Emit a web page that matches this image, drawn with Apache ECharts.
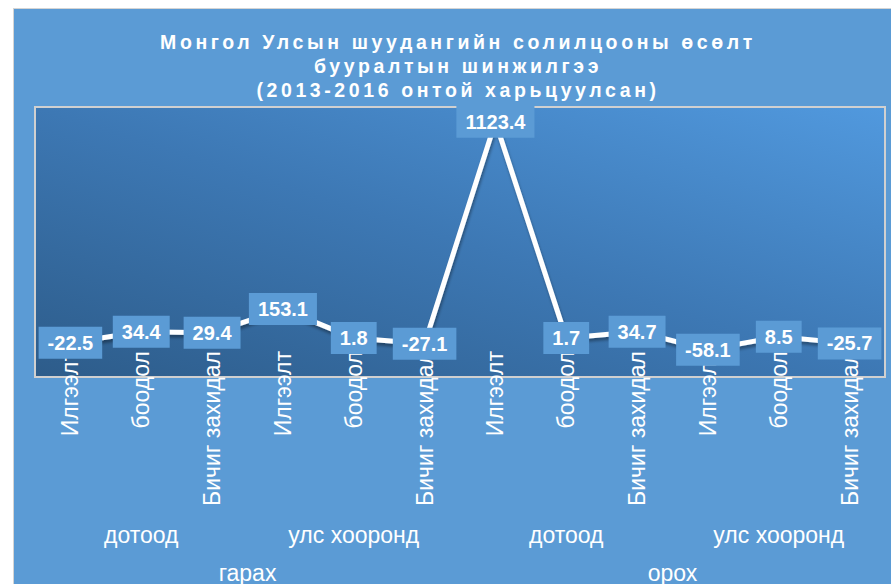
<!DOCTYPE html>
<html>
<head>
<meta charset="utf-8">
<script src="https://cdn.jsdelivr.net/npm/echarts@6/dist/echarts.min.js"></script>
<style>
    html, body {margin: 0; padding: 0; background: #fff;}
    #panel {
        position: absolute; left: 13px; top: 8px; width: 900px; height: 600px;
        background: #5b9bd5; border-left: 1px solid #d4d4d4; border-top: 1px solid #d4d4d4;
    }
    #chart {position: absolute; left: 0; top: 0; width: 891px; height: 584px;}
    /* title is letter spaced in the original */
    #chart text[style*="19.5px"] {letter-spacing: 3.6px;}
</style>
</head>
<body>
<div id="panel"></div>
<div id="chart"></div>
<script>
    const titleText = 'Монгол Улсын шуудангийн солилцооны өсөлт\nбууралтын шинжилгээ\n(2013-2016 онтой харьцуулсан)';

    const categories = ['Илгээлт', 'боодол', 'Бичиг захидал', 'Илгээлт', 'боодол', 'Бичиг захидал',
        'Илгээлт', 'боодол', 'Бичиг захидал', 'Илгээлт', 'боодол', 'Бичиг захидал'];
    const subGroups = ['дотоод', 'улс хооронд', 'дотоод', 'улс хооронд'];
    const topGroups = ['гарах', 'орох'];
    const values = [-22.5, 34.4, 29.4, 153.1, 1.8, -27.1, 1123.4, 1.7, 34.7, -58.1, 8.5, -25.7];

    const chart = echarts.init(document.getElementById('chart'), null, {renderer: 'svg'});

    //group axes share the grid, only labels shown
    const groupAxis = (data, offset) => ({
        type: 'category',
        data: data,
        position: 'bottom',
        offset: offset,
        axisLine: {show: false},
        axisTick: {show: false},
        splitLine: {show: false},
        axisLabel: {
            interval: 0,
            margin: 0,
            color: '#fff',
            fontSize: 23,
            fontFamily: 'Liberation Sans'
        }
    });

    chart.setOption({
        title: {
            text: titleText,
            left: 453,
            top: 25,
            textAlign: 'center',
            textStyle: {
                color: '#fff',
                fontSize: 19.5,
                fontWeight: 'bold',
                fontFamily: 'Liberation Sans',
                lineHeight: 24
            }
        },
        grid: {
            left: 35,
            right: 6,
            top: 107,
            bottom: 204,
            show: true,
            borderColor: '#d0d0d0',
            borderWidth: 2,
            backgroundColor: new echarts.graphic.LinearGradient(0, 1, 1, 0, [
                {offset: 0, color: '#2d5c8a'},
                {offset: 0.5, color: '#3d78b4'},
                {offset: 1, color: '#5199de'}
            ])
        },
        xAxis: [
            {
                type: 'category',
                data: categories,
                axisLine: {show: false},
                axisTick: {show: false},
                axisLabel: {
                    interval: 0,
                    rotate: 90,
                    margin: -26,
                    color: '#fff',
                    fontSize: 23,
                    fontFamily: 'Liberation Sans'
                }
            },
            groupAxis(subGroups, 146),
            groupAxis(topGroups, 184)
        ],
        yAxis: {
            type: 'value',
            min: -200,
            max: 1200,
            show: false,
            splitLine: {show: false}
        },
        series: [
            {
                type: 'line',
                data: values,
                smooth: false,
                symbol: 'circle',
                symbolSize: 2,
                itemStyle: {color: '#fff'},
                lineStyle: {
                    color: '#fff',
                    width: 5,
                    join: 'round',
                    shadowColor: 'rgba(0, 0, 0, 0.35)',
                    shadowBlur: 3,
                    shadowOffsetX: 1,
                    shadowOffsetY: 3
                },
                label: {
                    show: true,
                    position: 'inside',
                    color: '#fff',
                    fontSize: 20,
                    fontWeight: 'bold',
                    fontFamily: 'Liberation Sans',
                    backgroundColor: '#5b9bd5',
                    padding: [6, 9]
                },
                z: 3
            }
        ]
    });
</script>
</body>
</html>
